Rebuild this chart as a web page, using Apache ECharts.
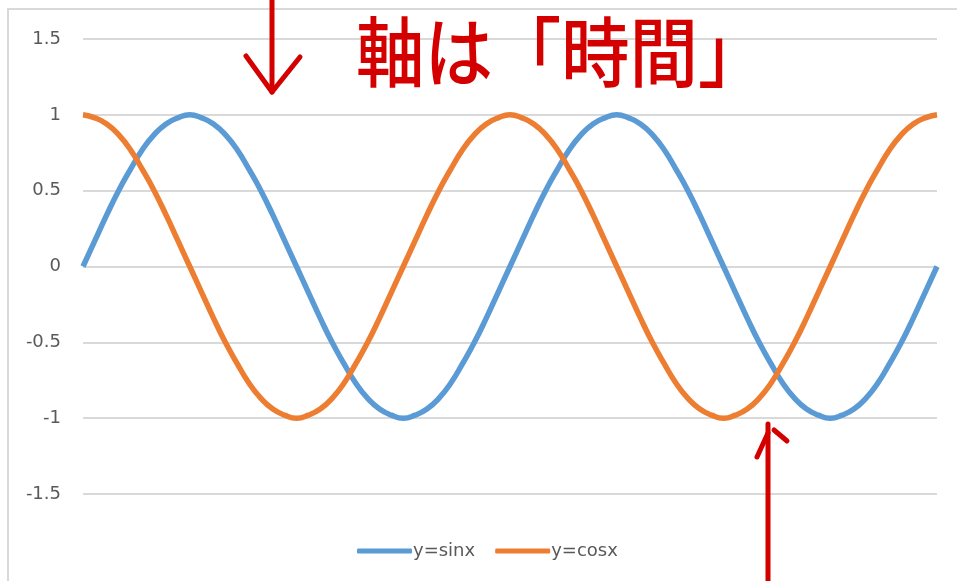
<!DOCTYPE html>
<html>
<head>
<meta charset="utf-8">
<script src="https://cdn.jsdelivr.net/npm/echarts@6/dist/echarts.min.js"></script>
<style>
html,body{margin:0;padding:0;background:#fff;}
#c{width:957px;height:581px;}
</style>
</head>
<body>
<div id="c"></div>
<script>
// x in degrees, 10° steps from 0 to 720 (0 .. 4π)
const xDegrees = [0,10,20,30,40,50,60,70,80,90,100,110,120,130,140,150,160,170,180,190,200,210,220,230,240,250,260,270,280,290,300,310,320,330,340,350,360,
  370,380,390,400,410,420,430,440,450,460,470,480,490,500,510,520,530,540,550,560,570,580,590,600,610,620,630,640,650,660,670,680,690,700,710,720];
const sinValues = [0,0.17,0.34,0.5,0.64,0.77,0.87,0.94,0.98,1,0.98,0.94,0.87,0.77,0.64,0.5,0.34,0.17,0,-0.17,-0.34,-0.5,-0.64,-0.77,-0.87,-0.94,-0.98,-1,-0.98,-0.94,-0.87,-0.77,-0.64,-0.5,-0.34,-0.17,0,
  0.17,0.34,0.5,0.64,0.77,0.87,0.94,0.98,1,0.98,0.94,0.87,0.77,0.64,0.5,0.34,0.17,0,-0.17,-0.34,-0.5,-0.64,-0.77,-0.87,-0.94,-0.98,-1,-0.98,-0.94,-0.87,-0.77,-0.64,-0.5,-0.34,-0.17,0];
const cosValues = [1,0.98,0.94,0.87,0.77,0.64,0.5,0.34,0.17,0,-0.17,-0.34,-0.5,-0.64,-0.77,-0.87,-0.94,-0.98,-1,-0.98,-0.94,-0.87,-0.77,-0.64,-0.5,-0.34,-0.17,0,0.17,0.34,0.5,0.64,0.77,0.87,0.94,0.98,1,
  0.98,0.94,0.87,0.77,0.64,0.5,0.34,0.17,0,-0.17,-0.34,-0.5,-0.64,-0.77,-0.87,-0.94,-0.98,-1,-0.98,-0.94,-0.87,-0.77,-0.64,-0.5,-0.34,-0.17,0,0.17,0.34,0.5,0.64,0.77,0.87,0.94,0.98,1];
const seriesNames = ['y=sinx','y=cosx'];
const yTicks = [-1.5,-1,-0.5,0,0.5,1,1.5];
const annotationText = '軸は「時間」';

const chart = echarts.init(document.getElementById('c'), null, {renderer:'canvas'});
const red = '#d40000';
const fontFam = '"DejaVu Sans", sans-serif';
chart.setOption({
  animation:false,
  backgroundColor:'#fff',
  grid:{left:83, right:20, top:39, bottom:87},
  xAxis:{type:'category', data:xDegrees, boundaryGap:false,
    axisLine:{show:false}, axisTick:{show:false}, axisLabel:{show:false}, splitLine:{show:false}},
  yAxis:{type:'value', min:yTicks[0], max:yTicks[yTicks.length-1], interval:0.5,
    axisLine:{show:false}, axisTick:{show:false},
    axisLabel:{margin:22, color:'#595959', fontSize:18, fontFamily:fontFam},
    splitLine:{lineStyle:{color:'#d9d9d9', width:2}}},
  legend:{bottom:21, left:357, padding:0, itemWidth:55, itemHeight:5, itemGap:20, icon:'roundRect',
    textStyle:{color:'#595959', fontSize:18, fontFamily:fontFam, padding:[0,0,0,-4]},
    data:seriesNames},
  series:[
    {name:seriesNames[0], type:'line', data:sinValues, smooth:true, showSymbol:false,
      lineStyle:{color:'#5b9bd5', width:5.5}, itemStyle:{color:'#5b9bd5'}},
    {name:seriesNames[1], type:'line', data:cosValues, smooth:true, showSymbol:false,
      lineStyle:{color:'#ed7d31', width:5.5}, itemStyle:{color:'#ed7d31'}}
  ],
  graphic:[
    {type:'rect', shape:{x:8, y:9, width:1000, height:700}, style:{fill:'none', stroke:'#d9d9d9', lineWidth:2}, z:-1},
    // down arrow
    {type:'line', shape:{x1:272, y1:-2, x2:272, y2:92}, style:{stroke:red, lineWidth:5, lineCap:'round'}, z:100},
    {type:'polyline', shape:{points:[[246,56],[272,92],[300,57]]}, style:{stroke:red, lineWidth:5, lineCap:'round', lineJoin:'round', fill:'none'}, z:100},
    // up arrow
    {type:'line', shape:{x1:768, y1:424, x2:768, y2:590}, style:{stroke:red, lineWidth:5, lineCap:'round'}, z:100},
    {type:'line', shape:{x1:768, y1:433, x2:757, y2:457}, style:{stroke:red, lineWidth:5, lineCap:'round'}, z:100},
    {type:'line', shape:{x1:774, y1:430, x2:787, y2:441}, style:{stroke:red, lineWidth:5, lineCap:'round'}, z:100},
    // handwritten annotation
    {type:'text', x:356, y:14, scaleX:0.9, z:100,
      style:{text:annotationText, fill:red, font:'500 76px "Noto Sans CJK JP"'}}
  ]
});
</script>
</body>
</html>
